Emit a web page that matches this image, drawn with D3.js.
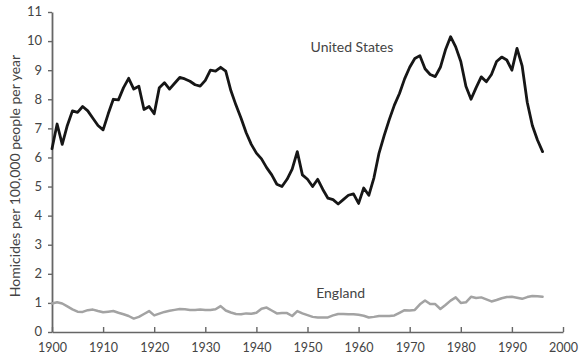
<!DOCTYPE html>
<html><head><meta charset="utf-8">
<script src="https://cdn.jsdelivr.net/npm/d3@7"></script>
<style>
html,body{margin:0;padding:0;background:#fff;}
svg{display:block;font-family:Lato,"Open Sans",sans-serif;}
</style></head><body>
<svg id="c" width="588" height="361"></svg>
<script>
const years = d3.range(1900, 1997);
const usRates = [6.3,7.15,6.45,7.1,7.6,7.55,7.75,7.6,7.35,7.1,
 6.95,7.5,8.0,7.98,8.4,8.72,8.35,8.45,7.65,7.75,
 7.5,8.4,8.57,8.35,8.55,8.75,8.7,8.62,8.5,8.45,
 8.65,9.0,8.97,9.1,8.97,8.3,7.8,7.35,6.85,6.45,
 6.15,5.95,5.65,5.4,5.08,5.0,5.25,5.6,6.2,5.4,
 5.25,5.0,5.25,4.9,4.6,4.55,4.4,4.55,4.7,4.75,
 4.42,4.95,4.7,5.3,6.15,6.75,7.3,7.8,8.2,8.7,
 9.1,9.4,9.5,9.05,8.85,8.78,9.1,9.7,10.15,9.8,
 9.3,8.45,8.0,8.4,8.77,8.6,8.85,9.3,9.45,9.35,
 9.0,9.75,9.15,7.9,7.1,6.6,6.2];
const englandRates = [0.98,1.02,0.98,0.88,0.78,0.7,0.69,0.75,0.77,0.72,
 0.68,0.7,0.72,0.66,0.61,0.55,0.46,0.52,0.62,0.72,
 0.57,0.63,0.69,0.73,0.76,0.79,0.78,0.76,0.76,0.77,
 0.76,0.76,0.78,0.89,0.74,0.67,0.62,0.61,0.64,0.63,
 0.66,0.8,0.84,0.74,0.64,0.65,0.65,0.55,0.72,0.64,
 0.58,0.52,0.5,0.5,0.5,0.57,0.62,0.62,0.61,0.61,
 0.59,0.56,0.5,0.52,0.55,0.55,0.55,0.57,0.66,0.75,
 0.74,0.76,0.95,1.08,0.96,0.96,0.79,0.93,1.08,1.19,
 1.0,1.02,1.21,1.17,1.19,1.12,1.05,1.1,1.16,1.2,
 1.21,1.18,1.14,1.2,1.24,1.23,1.21];
const xTicks = d3.range(1900, 2001, 10);
const yTicks = d3.range(0, 12, 1);
const seriesLabels = ["United States", "England"];
const yTitle = "Homicides per 100,000 people per year";

const svg = d3.select("#c");
const x = d3.scaleLinear().domain([1900, 2000]).range([52, 563]);
const y = d3.scaleLinear().domain([0, 11]).range([332, 12]);

const gx = svg.append("g").attr("transform", `translate(0,${y(0)})`)
  .call(d3.axisBottom(x).tickValues(xTicks).tickFormat(d3.format("d")).tickSizeInner(-5).tickSizeOuter(0).tickPadding(11));
gx.attr("font-family", null).attr("font-size", null);
gx.select(".domain").attr("stroke", "#666").attr("stroke-width", 1.6);
gx.selectAll(".tick line").attr("stroke", "#666").attr("stroke-width", 1.4);
gx.selectAll("text").attr("fill", "#444").attr("font-size", 12.5);

const gy = svg.append("g").attr("transform", `translate(${x(1900)},0)`)
  .call(d3.axisLeft(y).tickValues(yTicks).tickFormat(d3.format("d")).tickSizeInner(4).tickSizeOuter(0).tickPadding(6));
gy.attr("font-family", null).attr("font-size", null);
gy.select(".domain").attr("stroke", "#666").attr("stroke-width", 1.8);
gy.selectAll(".tick line").attr("stroke", "#666").attr("stroke-width", 1.4);
gy.selectAll("text").attr("fill", "#444").attr("font-size", 13).attr("dy", "0.3em");

svg.append("text").attr("transform", `translate(15,${(y(0)+y(11))/2+4}) rotate(-90)`)
  .attr("text-anchor", "middle").attr("dy", "0.35em")
  .attr("font-size", 14).attr("fill", "#444").text(yTitle);

const line = d3.line().x((d,i) => x(years[i])).y(d => y(d)).curve(d3.curveLinear);

svg.append("path").datum(englandRates).attr("d", line)
  .attr("fill", "none").attr("stroke", "#a3a3a3").attr("stroke-width", 2.5)
  .attr("stroke-linejoin", "round").attr("stroke-linecap", "round");
svg.append("path").datum(usRates).attr("d", line)
  .attr("fill", "none").attr("stroke", "#161616").attr("stroke-width", 2.8)
  .attr("stroke-linejoin", "round").attr("stroke-linecap", "round");

svg.append("text").attr("x", x(1950.6)).attr("y", y(9.8)).attr("dy", "0.35em")
  .attr("font-size", 14).attr("fill", "#444").text(seriesLabels[0]);
svg.append("text").attr("x", x(1951.7)).attr("y", y(1.33)).attr("dy", "0.35em")
  .attr("font-size", 14).attr("fill", "#444").text(seriesLabels[1]);
</script>
</body></html>
